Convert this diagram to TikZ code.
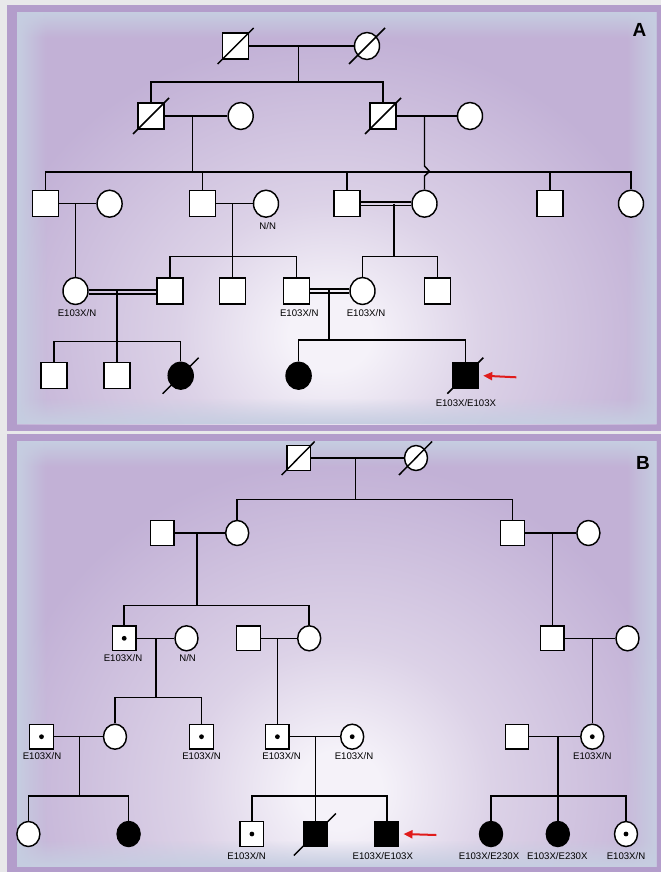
\documentclass[tikz,border=0pt]{standalone}
\usepackage{fontspec}
\setmainfont{Liberation Sans}
\usetikzlibrary{shapes.geometric,fadings,arrows.meta}

\definecolor{pageg}{HTML}{E8E8EA}
\definecolor{bandc}{HTML}{B39DCB}
\definecolor{edgec}{HTML}{C6CEE1}
\definecolor{bodyc}{HTML}{C2B1D6}
\definecolor{midc}{HTML}{DCD2E7}
\definecolor{glowc}{HTML}{F5F2F9}
\definecolor{arrred}{HTML}{E01B1B}

\pgfdeclareradialshading{panelglow}{\pgfpoint{0bp}{0bp}}{%
  color(0bp)=(glowc); color(3bp)=(glowc); color(11bp)=(midc);
  color(25bp)=(bodyc); color(50bp)=(bodyc)}

\tikzset{
  ln/.style={line width=1.45pt},
  sym/.style={draw=black, line width=1.45pt, fill=white, inner sep=0pt},
  maleA/.style={sym, rectangle, minimum width=26pt, minimum height=26pt},
  femA/.style={sym, ellipse, minimum width=25pt, minimum height=27pt},
  maleB/.style={sym, rectangle, minimum width=23.5pt, minimum height=24.5pt},
  femB/.style={sym, ellipse, minimum width=23pt, minimum height=25pt},
  aff/.style={fill=black},
  carrier/.style={path picture={\fill[black] (path picture bounding box.center) circle (2.4pt);}},
  gt/.style={font=\fontsize{9.6}{10}\selectfont, inner sep=0pt},
  panellabel/.style={font=\fontsize{19}{20}\selectfont\bfseries, inner sep=0pt},
  redarrow/.style={draw=arrred, line width=2pt, -{Triangle[length=9pt,width=8pt]}},
}

\begin{document}
\begin{tikzpicture}[x=1pt, y=-1pt]
\useasboundingbox (0,0) rectangle (661,872);

% ---------- panel frames ----------
\fill[pageg] (0,0) rectangle (661,872);
\fill[bandc] (6.5,5) rectangle (661,430.5);
\fill[bandc] (6.5,434) rectangle (661,872);

\begin{scope}
  \clip (17,12) rectangle (656.5,424);
  \fill[bodyc] (17,12) rectangle (656.5,424);
  \shade[shading=panelglow] (330,335) ellipse [x radius=345, y radius=300];
  \fill[edgec, path fading=east]  (17,12) rectangle (47,424);
  \fill[edgec, path fading=west]  (626.5,12) rectangle (656.5,424);
  \fill[edgec, path fading=south] (17,12) rectangle (656.5,38);
  \fill[edgec, path fading=north] (17,398) rectangle (656.5,424);
\end{scope}

\begin{scope}
  \clip (17,441) rectangle (656.5,866.5);
  \fill[bodyc] (17,441) rectangle (656.5,866.5);
  \shade[shading=panelglow] (340,790) ellipse [x radius=345, y radius=330];
  \fill[edgec, path fading=east]  (17,441) rectangle (47,866.5);
  \fill[edgec, path fading=west]  (626.5,441) rectangle (656.5,866.5);
  \fill[edgec, path fading=south] (17,441) rectangle (656.5,467);
  \fill[edgec, path fading=north] (17,840) rectangle (656.5,866.5);
\end{scope}

\node[panellabel] (labA) at (639.5,29.5) {A};
\node[panellabel] (labB) at (643,463) {B};

% =================== Pedigree A ===================
% generation I
\node[maleA] (aI1) at (235.6,46) {};
\node[femA]  (aI2) at (367,46) {};
% generation II
\node[maleA] (aII1) at (151,116) {};
\node[femA]  (aII2) at (240.7,116) {};
\node[maleA] (aII3) at (383,116) {};
\node[femA]  (aII4) at (470,116) {};
% generation III
\node[maleA] (aIII1) at (45.5,203.7) {};
\node[femA]  (aIII2) at (109.6,203.7) {};
\node[maleA] (aIII3) at (202.4,203.7) {};
\node[femA]  (aIII4) at (266,203.7) {};
\node[maleA] (aIII5) at (347,203.7) {};
\node[femA]  (aIII6) at (424.5,203.7) {};
\node[maleA] (aIII7) at (550,203.7) {};
\node[femA]  (aIII8) at (631,203.7) {};
% generation IV
\node[femA]  (aIV1) at (75.5,291) {};
\node[maleA] (aIV2) at (170,291) {};
\node[maleA] (aIV3) at (232.7,291) {};
\node[maleA] (aIV4) at (296.5,291) {};
\node[femA]  (aIV5) at (362.5,291) {};
\node[maleA] (aIV6) at (437.7,291) {};
% generation V
\node[maleA] (aV1) at (53.8,375.7) {};
\node[maleA] (aV2) at (117.2,375.7) {};
\node[femA, aff] (aV3) at (180.7,375.7) {};
\node[femA, aff] (aV4) at (298.6,375.7) {};
\node[maleA, aff] (aV5) at (465.3,375.7) {};

% couples and lines of descent
\coordinate (amI) at (298.5,46);    \coordinate (asI) at (298.5,82);
\coordinate (amII1) at (192.7,116); \coordinate (asII1) at (192.7,172);
\coordinate (amII2) at (424.5,116);
\coordinate (amIII1) at (75.5,203.7);
\coordinate (amIII2) at (232.7,203.7); \coordinate (asIII2) at (232.7,256.7);
\coordinate (amIII3) at (394,203.7);   \coordinate (asIII3) at (394,256.7);
\coordinate (amIV1) at (117.2,290);    \coordinate (asIV1) at (117.2,341.7);
\coordinate (amIV2) at (328.8,290);    \coordinate (asIV2) at (328.8,340);

\draw[ln] (aI1.east) -- (aI2.west);
\draw[ln] (amI) -- (asI);
\draw[ln] (aII1.north) |- (asI) -| (aII3.north);

\draw[ln] (aII1.east) -- (aII2.west);
\draw[ln] (amII1) -- (asII1);
\draw[ln] (aIII1.north) |- (asII1) -| (aIII8.north);
\foreach \c in {aIII3,aIII5,aIII7} \draw[ln] (\c.north) -- (\c.north |- asII1);

\draw[ln] (aII3.east) -- (aII4.west);
% this line of descent hops over the sibship line
\draw[ln] (amII2) -- (424.5,166) -- (429.5,171.5) -- (424.5,176) -- (aIII6.north);

\draw[ln] (aIII1.east) -- (aIII2.west);
\draw[ln] (amIII1) -- (aIV1.north);

\draw[ln] (aIII3.east) -- (aIII4.west);
\draw[ln] (amIII2) -- (asIII2);
\draw[ln] (aIV2.north) |- (asIII2) -| (aIV4.north);
\draw[ln] (aIV3.north) -- (aIV3.north |- asIII2);

% consanguineous unions
\draw[ln] ([yshift=-1.8]aIII5.east) -- ([yshift=-1.8]aIII6.west);
\draw[ln] ([yshift=1.8]aIII5.east) -- ([yshift=1.8]aIII6.west);
\draw[ln] (amIII3) -- (asIII3);
\draw[ln] (aIV5.north) |- (asIII3) -| (aIV6.north);

\draw[ln] ([yshift=-2.8]aIV1.east) -- ([yshift=-2.8]aIV2.west);
\draw[ln] ([yshift=0.8]aIV1.east) -- ([yshift=0.8]aIV2.west);
\draw[ln] (amIV1) -- (asIV1);
\draw[ln] (aV1.north) |- (asIV1) -| (aV3.north);
\draw[ln] (aV2.north) -- (aV2.north |- asIV1);

\draw[ln] ([yshift=-1.8]aIV4.east) -- ([yshift=-1.8]aIV5.west);
\draw[ln] ([yshift=1.8]aIV4.east) -- ([yshift=1.8]aIV5.west);
\draw[ln] (amIV2) -- (asIV2);
\draw[ln] (aV4.north) |- (asIV2) -| (aV5.north);

% deceased
\foreach \d in {aI1,aI2,aII1,aII3,aV3,aV5}
  \draw[ln] ([shift={(-18,18)}]\d.center) -- ([shift={(18,-18)}]\d.center);

% proband
\coordinate (arrA) at (516.4,377.3);
\draw[redarrow] (arrA) -- ([xshift=4.2]aV5.east);

% genotypes
\node[gt] (gaIII4) at (267.7,226) {N/N};
\node[gt] (gaIV1) at (77,313.3) {E103X/N};
\node[gt] (gaIV4) at (299.3,313.3) {E103X/N};
\node[gt] (gaIV5) at (366,313.3) {E103X/N};
\node[gt] (gaV5) at (465.9,402.7) {E103X/E103X};

% =================== Pedigree B ===================
% generation I
\node[maleB] (bI1) at (298.7,458) {};
\node[femB]  (bI2) at (416,458) {};
% generation II
\node[maleB] (bII1) at (162.3,533) {};
\node[femB]  (bII2) at (237.2,533) {};
\node[maleB] (bII3) at (512.5,533) {};
\node[femB]  (bII4) at (588.4,533) {};
% generation III
\node[maleB, carrier] (bIII1) at (124.2,638.3) {};
\node[femB]  (bIII2) at (186.5,638.3) {};
\node[maleB] (bIII3) at (248.5,638.3) {};
\node[femB]  (bIII4) at (309.2,638.3) {};
\node[maleB] (bIII5) at (552.3,638.3) {};
\node[femB]  (bIII6) at (627.5,638.3) {};
% generation IV
\node[maleB, carrier] (bIV1) at (41.5,736.7) {};
\node[femB]  (bIV2) at (115,736.7) {};
\node[maleB, carrier] (bIV3) at (201.5,736.7) {};
\node[maleB, carrier] (bIV4) at (277.4,736.7) {};
\node[femB, carrier]  (bIV5) at (352.2,736.7) {};
\node[maleB] (bIV6) at (517,736.7) {};
\node[femB, carrier]  (bIV7) at (592.3,736.7) {};
% generation V
\node[femB]  (bV1) at (28.4,834) {};
\node[femB, aff] (bV2) at (128.6,834) {};
\node[maleB, carrier] (bV3) at (251.9,834) {};
\node[maleB, aff] (bV4) at (315.3,834) {};
\node[maleB, aff] (bV5) at (386.8,834) {};
\node[femB, aff] (bV6) at (491,834) {};
\node[femB, aff] (bV7) at (557.8,834) {};
\node[femB, carrier] (bV8) at (626,834) {};

\coordinate (bmI) at (355.4,458);    \coordinate (bsI) at (355.4,499.3);
\coordinate (bmII1) at (196.9,533);  \coordinate (bsII1) at (196.9,605.7);
\coordinate (bmII2) at (552.3,533);
\coordinate (bmIII1) at (156,638.3); \coordinate (bsIII1) at (156,697.3);
\coordinate (bmIII2) at (277.4,638.3);
\coordinate (bmIII3) at (592.3,638.3);
\coordinate (bmIV1) at (79.3,736.7); \coordinate (bsIV1) at (79.3,796);
\coordinate (bmIV2) at (315.3,736.7); \coordinate (bsIV2) at (315.3,796);
\coordinate (bmIV3) at (557.8,736.7); \coordinate (bsIV3) at (557.8,796);

\draw[ln] (bI1.east) -- (bI2.west);
\draw[ln] (bmI) -- (bsI);
\draw[ln] (bII2.north) |- (bsI) -| (bII3.north);

\draw[ln] (bII1.east) -- (bII2.west);
\draw[ln] (bmII1) -- (bsII1);
\draw[ln] (bIII1.north) |- (bsII1) -| (bIII4.north);

\draw[ln] (bII3.east) -- (bII4.west);
\draw[ln] (bmII2) -- (bIII5.north);

\draw[ln] (bIII1.east) -- (bIII2.west);
\draw[ln] (bmIII1) -- (bsIII1);
\draw[ln] (bIV2.north) |- (bsIII1) -| (bIV3.north);

\draw[ln] (bIII3.east) -- (bIII4.west);
\draw[ln] (bmIII2) -- (bIV4.north);

\draw[ln] (bIII5.east) -- (bIII6.west);
\draw[ln] (bmIII3) -- (bIV7.north);

\draw[ln] (bIV1.east) -- (bIV2.west);
\draw[ln] (bmIV1) -- (bsIV1);
\draw[ln] (bV1.north) |- (bsIV1) -| (bV2.north);

\draw[ln] (bIV4.east) -- (bIV5.west);
\draw[ln] (bmIV2) -- (bsIV2);
\draw[ln] (bV3.north) |- (bsIV2) -| (bV5.north);
\draw[ln] (bV4.north) -- (bV4.north |- bsIV2);

\draw[ln] (bIV6.east) -- (bIV7.west);
\draw[ln] (bmIV3) -- (bsIV3);
\draw[ln] (bV6.north) |- (bsIV3) -| (bV8.north);
\draw[ln] (bV7.north) -- (bV7.north |- bsIV3);

% deceased
\foreach \d in {bI1,bI2}
  \draw[ln] ([shift={(-17,17)}]\d.center) -- ([shift={(16,-16.5)}]\d.center);
\draw[ln] ([shift={(-21.5,21.5)}]bV4.center) -- ([shift={(20.5,-20.5)}]bV4.center);

% proband
\coordinate (arrB) at (436.3,835);
\draw[redarrow] (arrB) -- ([xshift=4.2]bV5.east);

% genotypes
\node[gt] (gbIII1) at (123,658.3) {E103X/N};
\node[gt] (gbIII2) at (187.6,658.3) {N/N};
\node[gt] (gbIV1) at (42,756) {E103X/N};
\node[gt] (gbIV3) at (201.5,756) {E103X/N};
\node[gt] (gbIV4) at (281.6,756) {E103X/N};
\node[gt] (gbIV5) at (354,756) {E103X/N};
\node[gt] (gbIV7) at (592.3,756) {E103X/N};
\node[gt] (gbV3) at (246.6,855.7) {E103X/N};
\node[gt] (gbV5) at (382.8,855.7) {E103X/E103X};
\node[gt] (gbV6) at (489,855.7) {E103X/E230X};
\node[gt] (gbV7) at (557.3,855.7) {E103X/E230X};
\node[gt] (gbV8) at (626,855.7) {E103X/N};
\end{tikzpicture}
\end{document}
